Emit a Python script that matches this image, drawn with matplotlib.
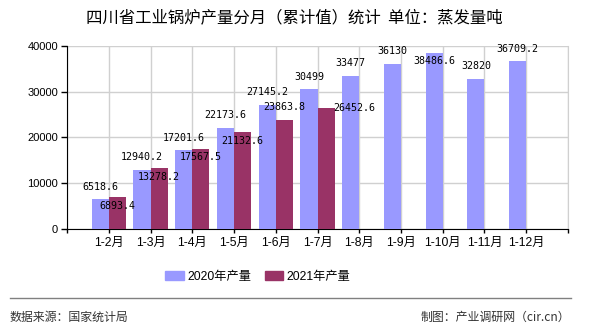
import matplotlib
matplotlib.use("Agg")
import matplotlib.pyplot as plt
import numpy as np
from matplotlib.lines import Line2D
from matplotlib.patches import Patch

plt.rcParams['font.family'] = ['Noto Sans CJK SC', 'DejaVu Sans']

# 数据
months = ["1-2月", "1-3月", "1-4月", "1-5月", "1-6月", "1-7月",
          "1-8月", "1-9月", "1-10月", "1-11月", "1-12月"]
output_2020 = [6518.6, 12940.2, 17201.6, 22173.6, 27145.2, 30499,
               33477, 36130, 38486.6, 32820, 36709.2]
output_2021 = [6893.4, 13278.2, 17567.5, 21132.6, 23863.8, 26452.6]

# 数据标签偏移 (points)
off_2020 = [(0, 9)] * 8 + [(0, -6)] + [(0, 9)] * 2
off_2021 = [(0, -6), (0, -6), (0, -6), (0, -6), (0, 9), (20, 0)]

c2020 = '#9999FF'
c2021 = '#993366'

fig = plt.figure(figsize=(5.9, 3.3), dpi=100)
ax = fig.add_axes([0.1136, 0.3061, 0.8491, 0.5545])

x = np.arange(len(months))
w = 0.41
ax.bar(x - w / 2, output_2020, w, color=c2020, zorder=3)
ax.bar(x[:len(output_2021)] + w / 2, output_2021, w, color=c2021, zorder=3)

mono = dict(family='DejaVu Sans Mono', fontsize=7.2, color='black', zorder=5)
for i, v in enumerate(output_2020):
    ax.annotate(f"{v:g}", (x[i] - w / 2, v), xytext=off_2020[i],
                textcoords='offset points', ha='center', va='center', **mono)
for i, v in enumerate(output_2021):
    ax.annotate(f"{v:g}", (x[i] + w / 2, v), xytext=off_2021[i],
                textcoords='offset points', ha='center', va='center', **mono)

ax.set_xlim(-1, len(months))
ax.set_ylim(0, 40000)
ax.set_yticks(np.arange(0, 40001, 10000))
ax.set_xticks(np.arange(-1, len(months) + 1))
ax.set_xticklabels([''] + months + [''])

ax.grid(True, color='#d0d0d0', linewidth=1, zorder=0)
ax.set_axisbelow(True)
ax.spines['top'].set_visible(False)
ax.spines['right'].set_color('#d0d0d0')
ax.spines['left'].set_color('black')
ax.spines['bottom'].set_color('black')

ax.tick_params(axis='x', length=3, width=1, pad=3, labelsize=8.8,
               colors='black')
ax.tick_params(axis='y', length=4.5, width=1, pad=2, labelsize=8)
for lab in ax.get_yticklabels():
    lab.set_family(['Liberation Sans', 'DejaVu Sans'])
for lab in ax.get_xticklabels():
    lab.set_family(['Liberation Sans', 'Noto Sans CJK SC'])

fig.text(0.498, 0.945, "四川省工业锅炉产量分月（累计值）统计  单位：蒸发量吨",
         ha='center', va='center', fontsize=11.8, color='black')

handles = [Patch(color=c2020, label='2020年产量'),
           Patch(color=c2021, label='2021年产量')]
fig.legend(handles=handles, loc='center', bbox_to_anchor=(0.437, 0.161),
           ncol=2, frameon=False, handlelength=1.5,
           handleheight=0.65, handletextpad=0.3, columnspacing=1.1,
           prop={'family': ['Liberation Sans', 'Noto Sans CJK SC'], 'size': 8.8})

fig.add_artist(Line2D([10 / 590, 571 / 590], [0.097, 0.097],
                      transform=fig.transFigure, color='#808080', linewidth=1))
fig.text(10 / 590, 0.039, "数据来源：国家统计局", ha='left', va='center',
         fontsize=8.6, color='#333333')
fig.text(570 / 590, 0.039, "制图：产业调研网（cir.cn）", ha='right', va='center',
         fontsize=8.6, color='#333333')

fig.savefig("out.png", dpi=100)
